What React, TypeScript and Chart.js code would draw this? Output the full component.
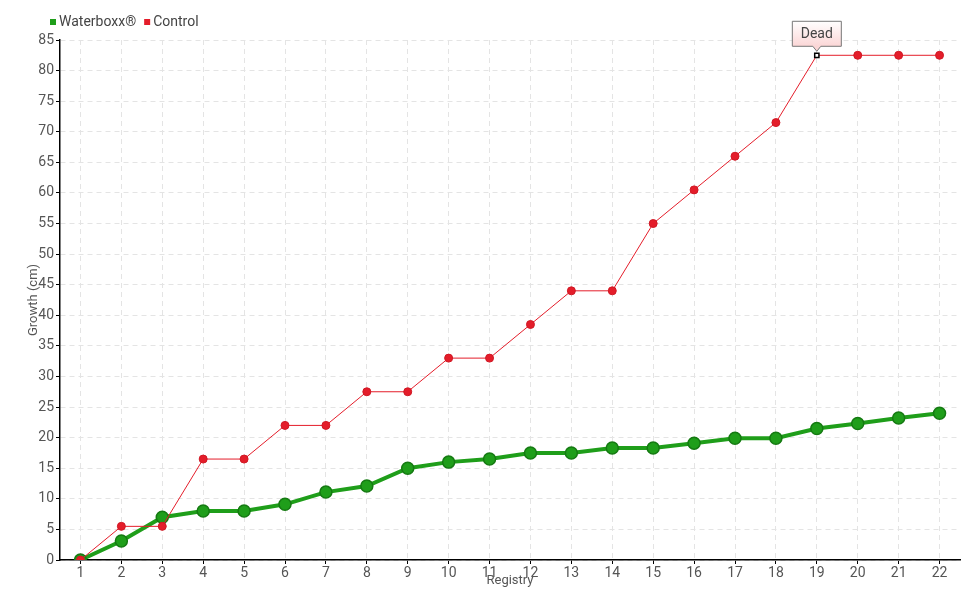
import React, { useEffect, useRef } from "react";
import { Chart, registerables } from "chart.js";

Chart.register(...registerables);

const categories = ["1","2","3","4","5","6","7","8","9","10","11","12","13","14","15","16","17","18","19","20","21","22"];
const waterboxx = [0, 3.1, 7, 8, 8, 9.1, 11.1, 12.1, 15, 16, 16.5, 17.5, 17.5, 18.3, 18.3, 19.1, 19.9, 19.9, 21.5, 22.3, 23.2, 24];
const control = [0, 5.5, 5.5, 16.5, 16.5, 22, 22, 27.5, 27.5, 33, 33, 38.5, 44, 44, 55, 60.5, 66, 71.5, 82.5, 82.5, 82.5, 82.5];
const deadIndex = 18;
const deadLabel = "Dead";
const seriesNames = ["Waterboxx®", "Control"];
const yTitle = "Growth (cm)";
const xTitle = "Registry";

const FONT = "Roboto, 'Liberation Sans', sans-serif";
const GREEN = "#1f9e1a";
const GREEN_DARK = "#157a12";
const RED = "#e41d2a";

export default function App() {
  const ref = useRef<HTMLCanvasElement | null>(null);
  useEffect(() => {
    document.body.style.margin = "0";
    const ctx = ref.current!.getContext("2d")!;

    const legendPlugin = {
      id: "customLegend",
      afterDraw(chart: any) {
        const c = chart.ctx;
        c.save();
        c.font = `14px ${FONT}`;
        c.textBaseline = "middle";
        let x = 50;
        const y = 22;
        const colors = [GREEN, RED];
        seriesNames.forEach((n, i) => {
          c.fillStyle = colors[i];
          c.fillRect(x, y - 3, 6, 6);
          c.fillStyle = "#444";
          c.textAlign = "left";
          c.fillText(n, x + 9, y);
          x += 9 + c.measureText(n).width + 8;
        });
        c.restore();
      },
    };

    const deadPlugin = {
      id: "deadLabel",
      afterDatasetsDraw(chart: any) {
        const meta = chart.getDatasetMeta(0);
        const pt = meta.data[deadIndex];
        if (!pt) return;
        const c = chart.ctx;
        c.save();
        const w = 49, h = 25;
        const bx = pt.x - w / 2;
        const by = pt.y - 34;
        const grad = c.createLinearGradient(0, by, 0, by + h);
        grad.addColorStop(0, "#ffffff");
        grad.addColorStop(1, "#fbd6d6");
        c.beginPath();
        c.moveTo(bx, by);
        c.lineTo(bx + w, by);
        c.lineTo(bx + w, by + h);
        c.lineTo(pt.x + 4, by + h);
        c.lineTo(pt.x, by + h + 5);
        c.lineTo(pt.x - 4, by + h);
        c.lineTo(bx, by + h);
        c.closePath();
        c.fillStyle = grad;
        c.fill();
        c.strokeStyle = "#777";
        c.lineWidth = 1;
        c.stroke();
        c.fillStyle = "#444";
        c.font = `14px ${FONT}`;
        c.textAlign = "center";
        c.textBaseline = "middle";
        c.fillText(deadLabel, pt.x, by + h / 2 + 1);
        c.restore();
      },
    };

    const chart = new Chart(ctx, {
      type: "line",
      data: {
        labels: categories,
        datasets: [
          {
            label: seriesNames[1],
            data: control,
            order: 0,
            borderColor: RED,
            backgroundColor: RED,
            borderWidth: 1,
            pointRadius: control.map((_, i) => (i === deadIndex ? 3 : 4)),
            pointStyle: control.map((_, i) => (i === deadIndex ? "rect" : "circle")) as any,
            pointBackgroundColor: control.map((_, i) => (i === deadIndex ? "#fff" : RED)),
            pointBorderColor: control.map((_, i) => (i === deadIndex ? "#000" : "#d01824")),
            pointBorderWidth: control.map((_, i) => (i === deadIndex ? 1.5 : 1)),
            tension: 0,
          },
          {
            label: seriesNames[0],
            data: waterboxx,
            order: 1,
            borderColor: GREEN,
            backgroundColor: GREEN,
            borderWidth: 4,
            pointRadius: 6,
            pointBackgroundColor: GREEN,
            pointBorderColor: GREEN_DARK,
            pointBorderWidth: 1.5,
            tension: 0,
          },
        ],
      },
      options: {
        animation: false,
        responsive: false,
        layout: { padding: { top: 40, right: 20, left: 0, bottom: 0 } },
        plugins: { legend: { display: false }, tooltip: { enabled: false } },
        scales: {
          x: {
            offset: true,
            grid: {
              offset: false,
              color: "#e4e4e4",
              tickColor: "#000",
              tickLength: 4,
            } as any,
            border: { color: "#000", width: 1.5, dash: [5, 4] } as any,
            ticks: { color: "#555", font: { family: FONT, size: 14 }, padding: 1, maxRotation: 0, autoSkip: false },
            title: { display: true, text: xTitle, color: "#555", font: { family: FONT, size: 13 }, padding: { top: 0, bottom: 11 } },
            afterFit(scale: any) { scale.height = 40; },
          },
          y: {
            min: 0,
            max: 85,
            grid: { color: "#e4e4e4", tickColor: "#000", tickLength: 4 },
            border: { color: "#000", width: 1.5, dash: [5, 4] } as any,
            ticks: { stepSize: 5, color: "#555", font: { family: FONT, size: 14 }, padding: 2 },
            title: { display: true, text: yTitle, color: "#555", font: { family: FONT, size: 13 }, padding: { top: 26, bottom: 0 } },
            afterFit(scale: any) { scale.width = 60; },
          },
        },
      },
      plugins: [legendPlugin, deadPlugin],
    });
    return () => chart.destroy();
  }, []);
  return <canvas ref={ref} width={980} height={600} style={{ display: "block" }} />;
}
